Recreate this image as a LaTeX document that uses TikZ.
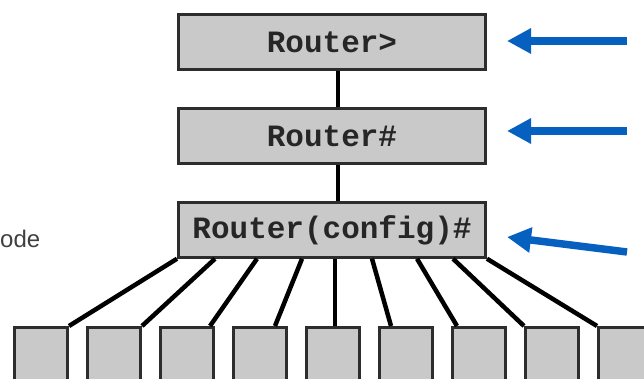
\documentclass[tikz,border=0pt]{standalone}
\usepackage{fontspec}
\setmainfont{Liberation Sans}
\setmonofont{Liberation Mono}
\usetikzlibrary{arrows.meta}
\definecolor{boxgray}{RGB}{201,201,201}
\definecolor{edgegray}{RGB}{45,45,45}
\definecolor{arrowblue}{RGB}{6,96,192}

\begin{document}
\begin{tikzpicture}[x=1pt, y=-1pt,
  mode/.style={rectangle, draw=edgegray, line width=2.5pt, fill=boxgray, minimum width=307pt, minimum height=55pt, inner sep=0pt, font=\ttfamily\bfseries\fontsize{31}{31}\selectfont, text=black!85},
  sub/.style={rectangle, draw=edgegray, line width=2.5pt, fill=boxgray, minimum width=53pt, minimum height=90pt, anchor=north},
  link/.style={line width=4.5pt, black},
  pointer/.style={arrowblue, line width=7.5pt, -{Triangle[length=24pt,width=24pt]}}]
\clip (0,0) rectangle (644,379);
% Modes
\node[mode] (user) at (332,42) {Router>};
\node[mode] (priv) at (332,136) {Router\#};
\node[mode] (conf) at (332,230) {Router(config)\#};
\draw[link] ([xshift=6pt]user.south) -- ([xshift=6pt]priv.north);
\draw[link] ([xshift=6pt]priv.south) -- ([xshift=6pt]conf.north);
\node[anchor=base west, inner sep=0pt, text=black!75, font=\fontsize{24}{24}\selectfont] (label) at (0,247) {ode};

% Sub modes
\foreach \i/\s/\e in {1/-155/28, 2/-117/28, 3/-75/23, 4/-30/15, 5/3/2, 6/40/-15, 7/85/-22, 8/121/-28, 9/155/-28} {
  \node[sub] (b\i) at (41+73*\i-73,326) {};
  \draw[link] ([xshift=\s pt]conf.south) -- ([xshift=\e pt]b\i.north);
}

% Arrows
\coordinate (t1) at (627,41);
\coordinate (h1) at (507,41);
\coordinate (t2) at (627,131);
\coordinate (h2) at (507,131);
\coordinate (t3) at (627,252);
\coordinate (h3) at (507,237);
\draw[pointer] (t1) -- (h1);
\draw[pointer] (t2) -- (h2);
\draw[pointer] (t3) -- (h3);
\end{tikzpicture}
\end{document}
